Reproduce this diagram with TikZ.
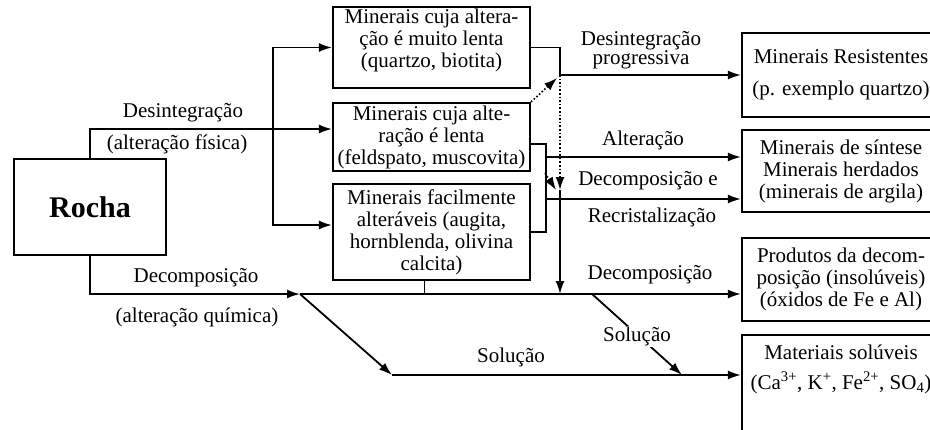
\documentclass[tikz,border=0pt]{standalone}
\usepackage{fontspec}
\setmainfont{Liberation Serif}
\usetikzlibrary{arrows.meta}

\begin{document}
\begin{tikzpicture}[x=1pt,y=-1pt,
        font=\fontsize{21}{22}\selectfont,
        caixa/.style={draw, line width=2.2pt, align=center, inner sep=0pt, minimum width=197pt},
        liga/.style={line width=1.8pt},
        seta/.style={line width=1.8pt, -{Latex[length=13pt,width=9pt]}},
        ponto/.style={line width=1.6pt, dotted, -{Latex[length=13pt,width=9pt]}}]
            \useasboundingbox (0,0) rectangle (930,429);

            \node[caixa, minimum width=152pt, minimum height=96pt, font=\fontsize{30}{32}\selectfont\bfseries] (rocha) at (90,207) {Rocha};

            \node[caixa, minimum height=81pt] (muito) at (431.5,47.5) {Minerais cuja altera-\\ção é muito lenta\\(quartzo, biotita)\\[-4pt]};
            \node[caixa, minimum height=68pt] (lenta) at (431.5,137) {Minerais cuja alte-\\ração é lenta\\(feldspato, muscovita)};
            \node[caixa, minimum height=96pt] (facil) at (431.5,232) {Minerais facilmente\\alteráveis (augita,\\hornblenda, olivina\\calcita)};

            \node[caixa, minimum width=198pt, minimum height=84pt] (resist) at (841,75) {Minerais Resistentes\\[10pt](p. exemplo quartzo)};
            \node[caixa, minimum width=198pt, minimum height=82pt] (sintese) at (841,171) {Minerais de síntese\\Minerais herdados\\(minerais de argila)};
            \node[caixa, minimum width=198pt, minimum height=83pt] (produtos) at (841,279.5) {Produtos da decom-\\posição (insolúveis)\\(óxidos de Fe e Al)};
            \node[caixa, minimum width=198pt, minimum height=100pt] (soluveis) at (841,385) {Materiais solúveis\\[8pt](Ca\textsuperscript{3+}, K\textsuperscript{+}, Fe\textsuperscript{2+}, SO\textsubscript{4})\\[14pt]};

            \coordinate (fis) at (273,129);
            \coordinate (quim) at (300,294);
            \coordinate (sol) at (392,375);
            \coordinate (dp) at (560,75);
            \coordinate (dd) at (560,190);
            \coordinate (alt) at (545,157);
            \coordinate (rec) at (545,199);
            \coordinate (s2a) at (592,294);
            \coordinate (s2b) at (682,375);

            \draw[seta] (rocha.north) |- (fis) -- (fis -| lenta.west);
            \draw[seta] (fis) |- (muito.west);
            \draw[seta] (fis) |- ([yshift=7pt]facil.west);

            \draw[seta] (rocha.south) |- (quim);
            \draw[seta] (quim) -- (quim -| produtos.west);
            \draw[liga] ([xshift=-7pt]facil.south) -- ([xshift=-7pt]facil.south |- quim);
            \draw[seta] (quim) -- (sol);
            \draw[seta] (sol) -- (sol -| soluveis.west);
            \draw[seta] (s2a) -- node[fill=white, inner sep=1pt, yshift=-2pt] (sol2) {Solução} (s2b);

            \draw[seta] (muito.east) -| (dp) -- (resist.west);
            \draw[ponto] (lenta.north east) -- ([shift={(-3pt,-3pt)}]dp);
            \draw[ponto] (dp) -- (dd);
            \draw[seta] (dd) -- (dd |- quim);
            \draw[ponto] ([yshift=-1pt]lenta.south east -| alt) -- ([xshift=-4pt]dd);

            \draw[liga] ([yshift=-7pt]lenta.east) -- ++(15,0) |- (facil.east);
            \draw[seta] (alt) -- (alt -| sintese.west);
            \draw[seta] (rec) -- (rec -| sintese.west);

            \node (l1) at (183,113) {Desintegração};
            \node (l2) at (177,144) {(alteração física)};
            \node (l3) at (196,278) {Decomposição};
            \node (l4) at (197,317) {(alteração química)};
            \node[align=center, font=\fontsize{21}{19}\selectfont] (l5) at (641,50) {Desintegração\\progressiva};
            \node (l6) at (643,140) {Alteração};
            \node (l7) at (648,181) {Decomposição e};
            \node (l8) at (652,217) {Recristalização};
            \node (l9) at (650,275) {Decomposição};
            \node (l10) at (511,357) {Solução};
        \end{tikzpicture}
\end{document}
